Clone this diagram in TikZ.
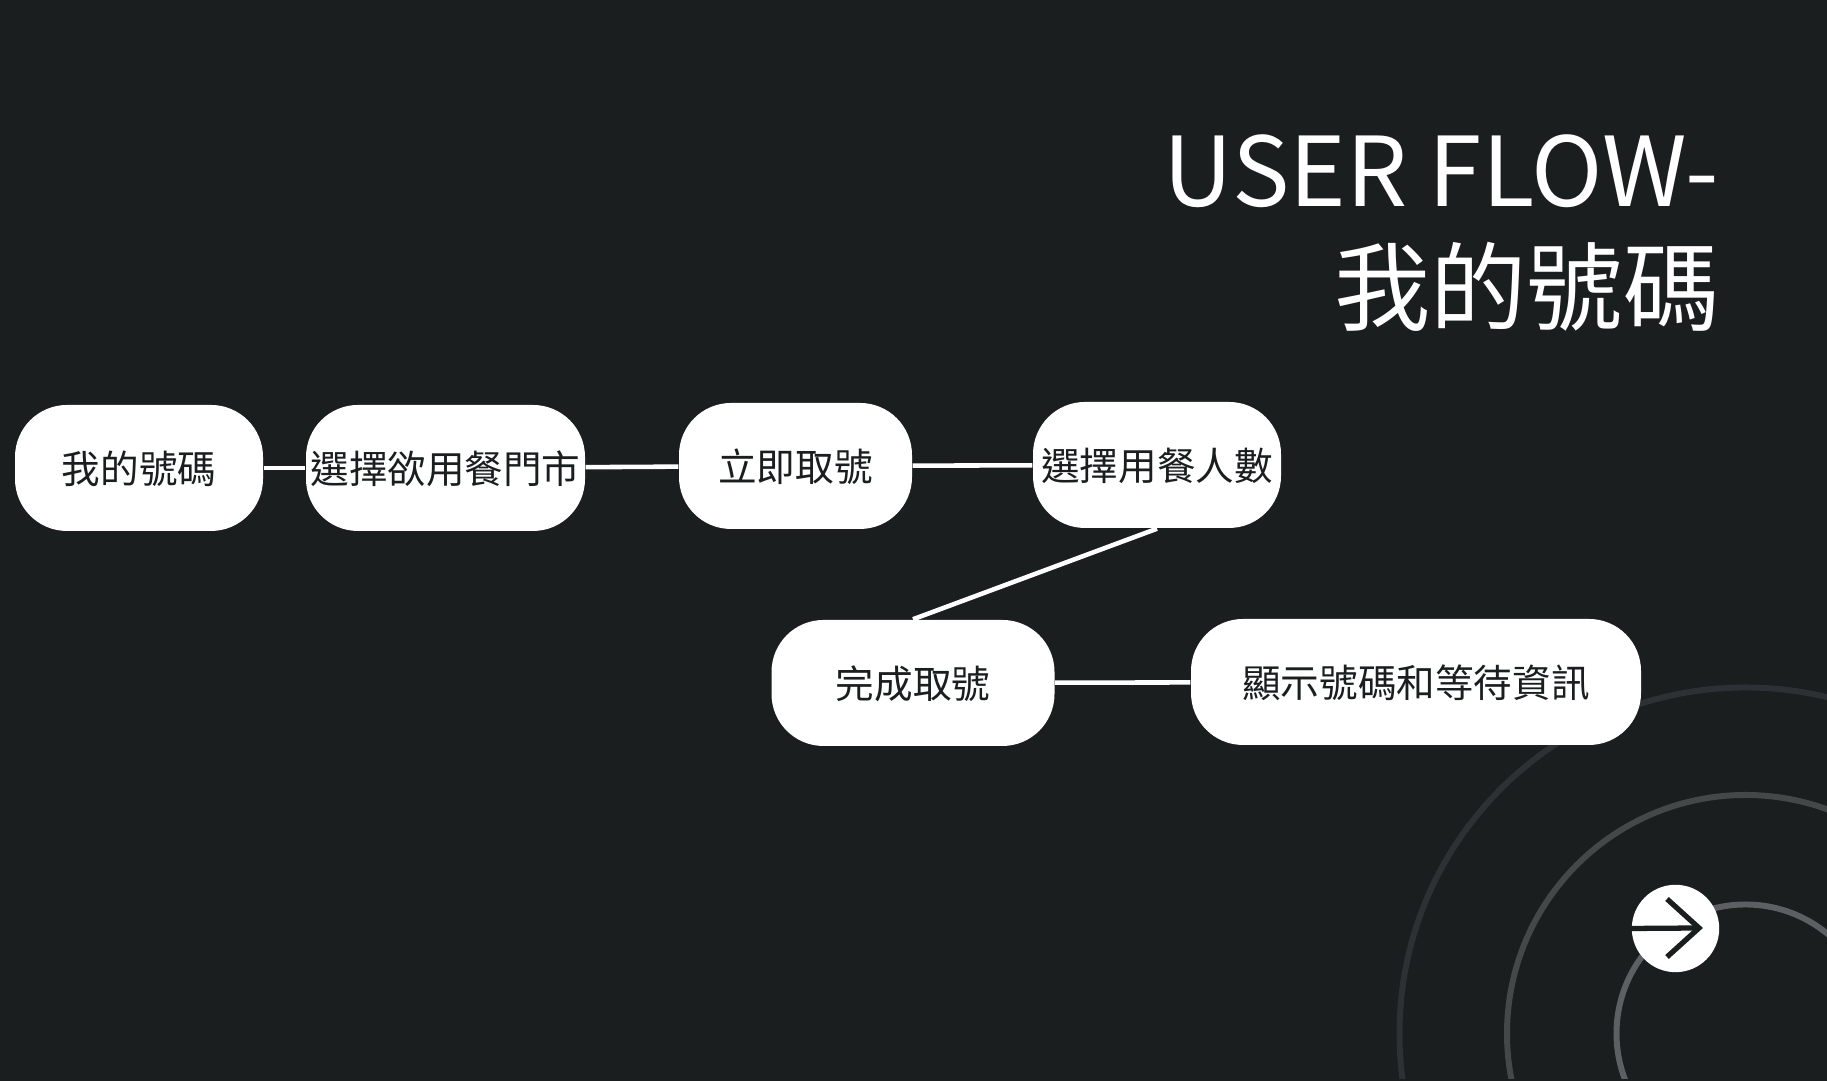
\documentclass[tikz,border=0pt]{standalone}
\usepackage{fontspec}
\setmainfont{Noto Sans CJK TC}
\definecolor{pagebg}{HTML}{1A1E1F}
\definecolor{ringa}{HTML}{5C6062}
\definecolor{ringb}{HTML}{444849}
\definecolor{ringc}{HTML}{2D3133}
\tikzset{
  flownode/.style={fill=white,text=pagebg,rounded corners=0.52cm,minimum height=1.26cm,inner sep=0pt,text height=0.40cm,text depth=0.08cm,font=\fontsize{10.98}{13}\selectfont},
  flowline/.style={draw=white,line width=1.3pt},
  ring/.style={line width=1.7pt}
}
\begin{document}
\begin{tikzpicture}
\fill[pagebg] (0,0) rectangle (18.27,10.81);
\useasboundingbox (0,0) rectangle (18.27,10.81);
% rings
\begin{scope}
\clip (0,0.02) rectangle (18.27,10.81);
\draw[ring,ringc] (17.455,0.475) circle (3.46);
\draw[ring,ringb] (17.455,0.475) circle (2.385);
\draw[ring,ringa] (17.455,0.475) circle (1.29);
\end{scope}
% title
\node[text=white,align=right,anchor=east,inner sep=0pt,font=\fontsize{27.4}{33.2}\selectfont] (title) at (17.2,8.48) {USER FLOW-\\我的號碼};
% steps
\foreach \x/\y/\w/\name/\txt in {1.39/6.13/2.48/mine/我的號碼, 4.455/6.13/2.79/store/選擇欲用餐門市, 7.955/6.15/2.33/take/立即取號, 11.57/6.16/2.48/party/選擇用餐人數, 9.13/3.98/2.83/done/完成取號, 14.16/3.99/4.50/info/顯示號碼和等待資訊} {
  \node[flownode,minimum width=\w cm] (\name) at (\x,\y) {\txt};
}
% links
\foreach \from/\to in {mine/store, store/take, take/party, party.south/done.north, done/info} {
  \draw[flowline] (\from) -- (\to);
}
% next button
\node[circle,fill=white,minimum size=0.874cm,inner sep=0pt] (next) at (16.755,1.525) {};
\coordinate (tip) at (16.99,1.53);
\draw[pagebg,line width=1.5pt] (next.west) -- (tip);
\draw[pagebg,line width=1.5pt] (16.67,1.82) -- (tip) -- (16.67,1.24);
\end{tikzpicture}
\end{document}
